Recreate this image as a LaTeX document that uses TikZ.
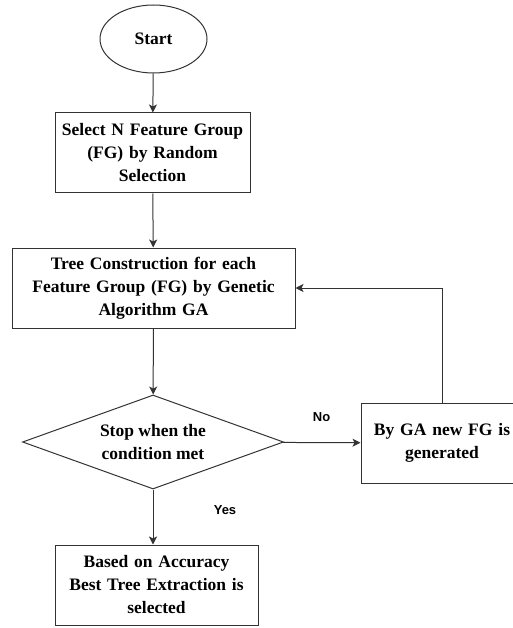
\documentclass[tikz,border=0pt]{standalone}
\usepackage{fontspec}
\setmainfont{Liberation Serif}
\newfontfamily\labelfont{Liberation Sans}
\usetikzlibrary{arrows.meta,positioning,shapes.geometric}
\definecolor{linegray}{RGB}{51,51,51}

\begin{document}
\begin{tikzpicture}[x=1pt,y=-1pt,
  stepbox/.style={draw=linegray, line width=1pt, align=center, inner sep=0pt,
    minimum height=80pt, font=\fontsize{17.5}{23}\selectfont\bfseries},
  arrow/.style={-{Stealth[length=8pt,width=8pt,inset=2pt]}, line width=1pt, draw=linegray},
  tag/.style={font=\labelfont\fontsize{13}{15}\selectfont\bfseries}
]
\useasboundingbox (0,0) rectangle (512,628);
\node[draw=linegray, line width=1pt, ellipse, minimum width=107pt, minimum height=68pt,
  font=\fontsize{17.5}{23}\selectfont\bfseries] (start) at (153.5,39) {Start};
\node[stepbox, text width=195pt] (select) at (152.5,153)
  {Select N Feature Group\\ (FG) by Random\\ Selection};
\node[stepbox, text width=283pt] (tree) at (153.5,288)
  {Tree Construction for each\\ Feature Group (FG) by Genetic\\ Algorithm GA};
\node[draw=linegray, line width=1pt, diamond, aspect=2.77, inner sep=0pt,
  minimum width=261pt, minimum height=94pt, align=center,
  font=\fontsize{17.5}{23}\selectfont\bfseries] (stop) at (153,442)
  {Stop when the\\ condition met};
\node[stepbox, text width=162pt] (newfg) at (442,443)
  {By GA new FG is\\ generated};
\node[stepbox, text width=203pt] (best) at (156.5,585)
  {Based on Accuracy\\ Best Tree Extraction is\\ selected};
\draw[arrow] (start) -- (select);
\draw[arrow] (select) -- (tree);
\draw[arrow] (tree) -- (stop);
\draw[arrow] (stop) -- node[tag, above=17pt] {No} (newfg);
\draw[arrow] (stop.south) -- node[tag, pos=0.38, xshift=72pt] {Yes} (best.north -| stop.south);
\draw[arrow] (newfg) |- (tree.east);
\end{tikzpicture}
\end{document}
